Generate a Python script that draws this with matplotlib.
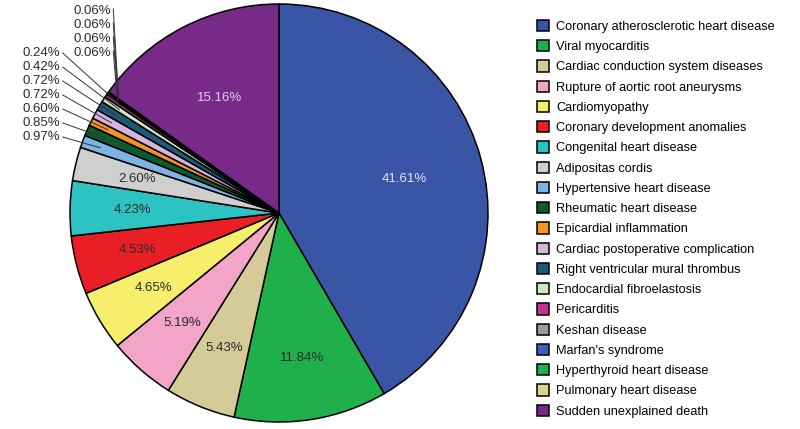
import matplotlib
matplotlib.use("Agg")
import matplotlib.pyplot as plt
from matplotlib.patches import Patch
import numpy as np

plt.rcParams['font.family'] = ['Liberation Sans', 'DejaVu Sans']

causes = [
    "Coronary atherosclerotic heart disease",
    "Viral myocarditis",
    "Cardiac conduction system diseases",
    "Rupture of aortic root aneurysms",
    "Cardiomyopathy",
    "Coronary development anomalies",
    "Congenital heart disease",
    "Adipositas cordis",
    "Hypertensive heart disease",
    "Rheumatic heart disease",
    "Epicardial inflammation",
    "Cardiac postoperative complication",
    "Right ventricular mural thrombus",
    "Endocardial fibroelastosis",
    "Pericarditis",
    "Keshan disease",
    "Marfan's syndrome",
    "Hyperthyroid heart disease",
    "Pulmonary heart disease",
    "Sudden unexplained death",
]
percents = [41.61, 11.84, 5.43, 5.19, 4.65, 4.53, 4.23, 2.60, 0.97, 0.85,
            0.60, 0.72, 0.72, 0.42, 0.24, 0.06, 0.06, 0.06, 0.06, 15.16]
colors = ["#3a55a6", "#20b04b", "#d5cb98", "#f3a5c8", "#f7ee6c", "#ea1f26",
          "#2dc3c3", "#cfcfcf", "#7db4e4", "#0f5a2c", "#f6931e", "#d8b3dc",
          "#1b5a78", "#cbe7c4", "#c2338b", "#9b9b9b", "#3b5fbe", "#23b14d",
          "#d7d68f", "#782a88"]

fig = plt.figure(figsize=(8, 4.29), dpi=100)
R_PX = 209
cx, cy = 279, 213
ax = fig.add_axes([(cx - R_PX) / 800, (429 - cy - R_PX) / 429,
                   2 * R_PX / 800, 2 * R_PX / 429])

wedges, _ = ax.pie(percents, colors=colors, startangle=90, counterclock=False,
                   radius=1.0,
                   wedgeprops=dict(edgecolor="black", linewidth=1.1))
ax.set_xlim(-1, 1)
ax.set_ylim(-1, 1)
ax.set_aspect("equal")
ax.axis("off")

# labels inside the big wedges
light = {0: "#dde1f2", 19: "#e6cdea"}
for i, (w, p) in enumerate(zip(wedges, percents)):
    if p < 1.0:
        continue
    mid = np.deg2rad((w.theta1 + w.theta2) / 2)
    r = 0.62 if p > 15 else 0.7
    ax.text(r * np.cos(mid), r * np.sin(mid), f"{p:.2f}%",
            ha="center", va="center", fontsize=9.5,
            color=light.get(i, "#2b2b2b"))

# small wedges: labels stacked on the left with leader lines
small = [i for i, p in enumerate(percents) if p < 1.0]
step = 14 / R_PX
low_group = [i for i in small if percents[i] > 0.1]
tiny_group = [i for i in small if percents[i] <= 0.1]
for k, i in enumerate(low_group):
    tx, ty = -1.045, (cy - 137) / R_PX + k * step
    w = wedges[i]
    mid = np.deg2rad((w.theta1 + w.theta2) / 2)
    ax.text(tx, ty, f"{percents[i]:.2f}%", ha="right", va="center",
            fontsize=9.5, color="#2b2b2b")
    ax.plot([tx + 0.01, 0.91 * np.cos(mid)], [ty, 0.91 * np.sin(mid)],
            color="#333333", lw=0.7, clip_on=False)
for k, i in enumerate(tiny_group):
    tx, ty = -0.805, (cy - 53) / R_PX + k * step
    w = wedges[i]
    mid = np.deg2rad((w.theta1 + w.theta2) / 2)
    ax.text(tx, ty, f"{percents[i]:.2f}%", ha="right", va="center",
            fontsize=9.5, color="#2b2b2b")
    ax.plot([tx + 0.012, 0.94 * np.cos(mid)], [ty + 0.01, 0.94 * np.sin(mid)],
            color="#333333", lw=0.7, clip_on=False)

handles = [Patch(facecolor=c, edgecolor="black", linewidth=1.1) for c in colors]
fig.legend(handles, causes, loc="upper left", bbox_to_anchor=(537 / 800, 1 - 20 / 429),
           frameon=False, fontsize=9.2, handlelength=0.95, handleheight=0.95,
           handletextpad=0.55, labelspacing=0.575, borderpad=0, borderaxespad=0)

fig.savefig("out.png", dpi=100)
